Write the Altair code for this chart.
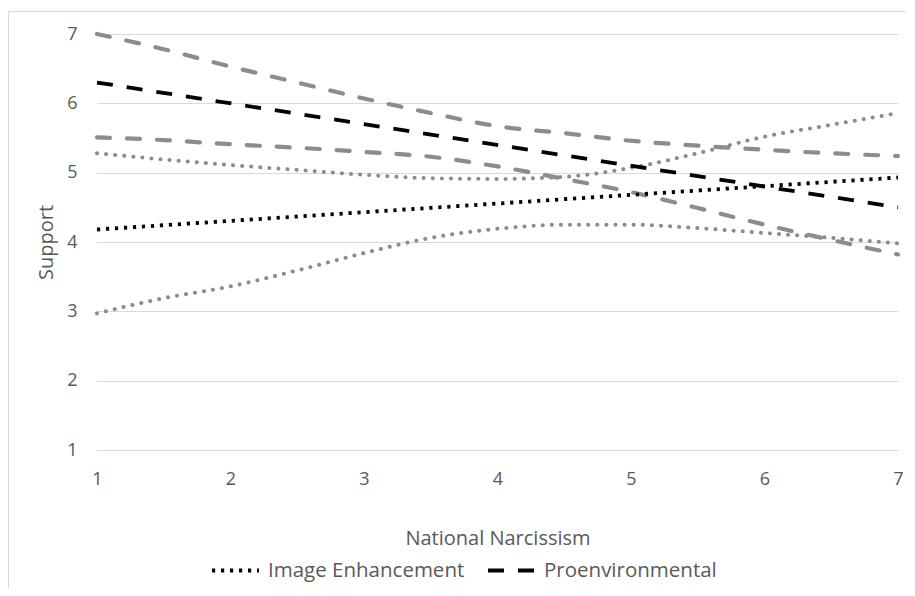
import altair as alt
import pandas as pd

# ---- data ----
x_band = [1, 1.5, 2, 2.5, 3, 3.5, 4, 4.5, 5, 5.5, 6, 6.5, 7]
ie_upper = [5.28, 5.19, 5.11, 5.04, 4.97, 4.92, 4.91, 4.94, 5.07, 5.28, 5.52, 5.69, 5.86]
ie_lower = [2.97, 3.19, 3.36, 3.59, 3.84, 4.06, 4.19, 4.25, 4.25, 4.20, 4.13, 4.06, 3.98]
pe_upper = [7.00, 6.78, 6.53, 6.30, 6.07, 5.86, 5.67, 5.57, 5.46, 5.39, 5.33, 5.28, 5.24]
pe_lower = [5.51, 5.47, 5.41, 5.36, 5.30, 5.23, 5.09, 4.91, 4.72, 4.49, 4.25, 4.03, 3.82]

x_mean = [1, 7]
ie_mean = [4.18, 4.93]
pe_mean = [6.30, 4.50]

series = ["Image Enhancement", "Proenvironmental"]
ticks = [1, 2, 3, 4, 5, 6, 7]

# ---- tables ----
mean_rows = []
for xv, a, b in zip(x_mean, ie_mean, pe_mean):
    mean_rows.append({"x": xv, "y": a, "series": series[0]})
    mean_rows.append({"x": xv, "y": b, "series": series[1]})
means = pd.DataFrame(mean_rows)

ie_rows, pe_rows = [], []
for i, xv in enumerate(x_band):
    ie_rows.append({"x": xv, "y": ie_upper[i], "bound": "upper"})
    ie_rows.append({"x": xv, "y": ie_lower[i], "bound": "lower"})
    pe_rows.append({"x": xv, "y": pe_upper[i], "bound": "upper"})
    pe_rows.append({"x": xv, "y": pe_lower[i], "bound": "lower"})
ie_band = pd.DataFrame(ie_rows)
pe_band = pd.DataFrame(pe_rows)

FONT = "Open Sans"
TXT = "#595959"
GRAY = "#8c8c8c"
BAND_DOT = [0.1, 9]
BAND_DASH = [13, 17]
MEAN_DOT = [3.2, 5.8]
MEAN_DASH = [16, 14]

xenc = alt.X(
    "x:Q",
    scale=alt.Scale(domain=[1, 7], nice=False),
    axis=alt.Axis(values=ticks, title="National Narcissism", grid=False, domain=False,
                  ticks=False, labelPadding=20, titlePadding=40, format="d",
                  labelFlush=False),
)
yenc = alt.Y(
    "y:Q",
    scale=alt.Scale(domain=[1, 7], nice=False),
    axis=alt.Axis(values=ticks, title="Support", grid=True, gridColor="#d9d9d9", domain=False,
                  ticks=False, labelPadding=20, titlePadding=10, format="d",
                  labelFlush=False),
)

frame = alt.Chart(pd.DataFrame({"f": [0]})).mark_rect(
    fillOpacity=0, stroke="#d9d9d9", strokeWidth=1
).encode(
    x=alt.value(-88.5), x2=alt.value(1200), y=alt.value(-22.5), y2=alt.value(900)
)

ie_layer = alt.Chart(ie_band).mark_line(
    color=GRAY, strokeWidth=4, strokeCap="round", strokeDash=BAND_DOT, interpolate="monotone"
).encode(x=xenc, y=yenc, detail="bound:N")

pe_layer = alt.Chart(pe_band).mark_line(
    color=GRAY, strokeWidth=4.2, strokeCap="round", strokeDash=BAND_DASH, interpolate="monotone"
).encode(x=xenc, y=yenc, detail="bound:N")

mean_layer = alt.Chart(means).mark_line(
    color="black", strokeWidth=3.8, strokeCap="butt"
).encode(
    x=xenc, y=yenc,
    strokeDash=alt.StrokeDash(
        "series:N", scale=alt.Scale(domain=series, range=[MEAN_DOT, MEAN_DASH]),
        legend=alt.Legend(title=None, orient="none", direction="horizontal",
                          legendX=113, legendY=511, symbolType="stroke",
                          symbolSize=2209, symbolStrokeWidth=3.8,
                          symbolStrokeColor="black", labelFontSize=20.5,
                          labelFont=FONT, labelColor=TXT, labelOffset=7,
                          labelLimit=0, columnPadding=15),
    ),
)

chart = alt.layer(frame, ie_layer, pe_layer, mean_layer).properties(
    width=801, height=416,
    autosize=alt.AutoSizeParams(type="none"),
    padding={"left": 89, "top": 26, "right": 8, "bottom": 138},
).configure_view(stroke=None).configure_axis(
    labelFont=FONT, labelFontSize=18, labelColor=TXT,
    titleFont=FONT, titleFontSize=20, titleColor=TXT, titleFontWeight="normal",
)

chart.save("out.html", embed_options={"renderer": "svg", "actions": False})
